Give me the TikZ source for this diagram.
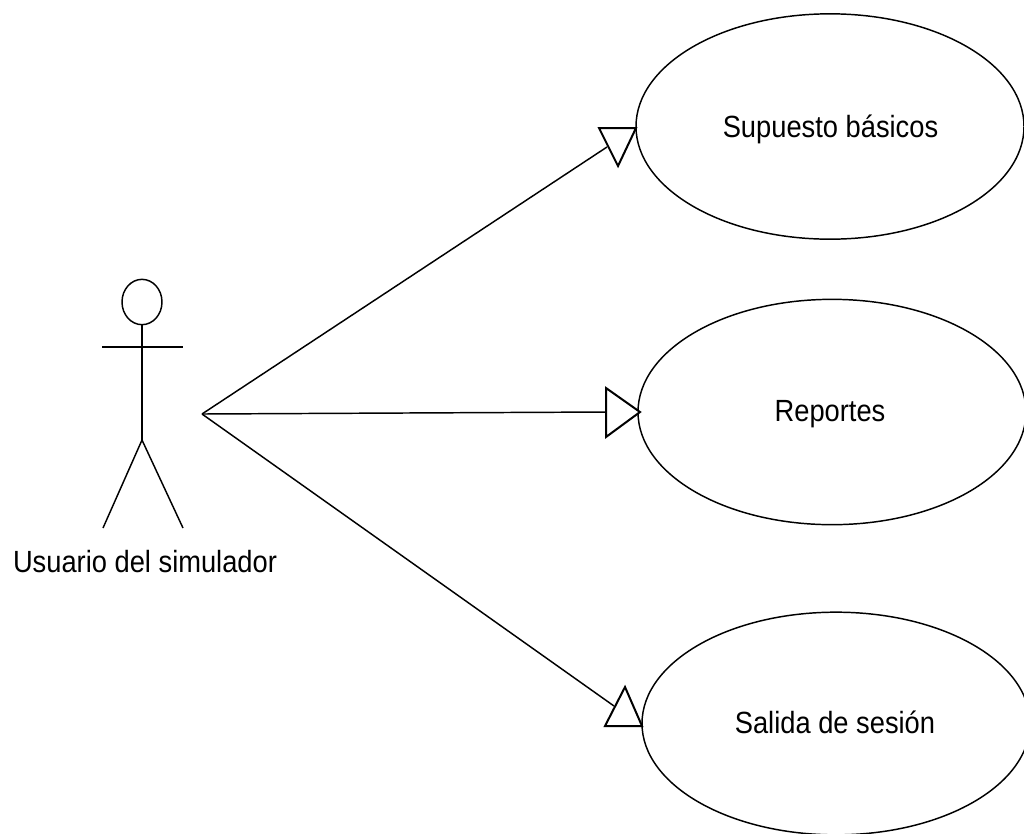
\documentclass[tikz,border=0pt]{standalone}
\usepackage{fontspec}
\setmainfont[FakeStretch=0.89]{Liberation Sans}
\usetikzlibrary{shapes.geometric}
\tikzset{
 ln/.style={draw=black,line width=1.1pt},
 uc/.style={ellipse,ln,inner sep=0pt},
 lab/.style={font=\fontsize{23}{26}\selectfont,inner sep=0pt,anchor=base},
 tip/.style={ln,line width=1.5pt,fill=white,line join=miter}
}
\begin{document}
\begin{tikzpicture}[x=0.75pt,y=-0.75pt]
\useasboundingbox (0,0) rectangle (1024,833);
\node[uc,minimum width=291pt,minimum height=169pt] (a) at (830,126.5) {};
\node[uc,minimum width=291pt,minimum height=169pt] (b) at (832,412) {};
\node[uc,minimum width=291pt,minimum height=167pt] (c) at (836,723.5) {};
\node[lab] at (830.5,137) {Supuesto básicos};
\node[lab] at (830,421) {Reportes};
\node[lab] at (835,733) {Salida de sesión};
\node[lab] (u) at (145,572) {Usuario del simulador};
\coordinate (hub) at (202,414);
\coordinate (ae) at (607,147);
\coordinate (be) at (606,412);
\coordinate (ce) at (614,706);
\draw[ln] (hub) -- (ae);
\draw[ln] (hub) -- (be);
\draw[ln] (hub) -- (ce);
\draw[tip] (599,128) -- (636,128) -- (618,166) -- cycle;
\draw[tip] (606,388) -- (640,412) -- (606,437) -- cycle;
\draw[tip] (625,687) -- (605,726) -- (642,726) -- cycle;
\node[ellipse,ln,minimum width=30pt,minimum height=34pt,inner sep=0pt] (head) at (142,302) {};
\coordinate (hip) at (142,440);
\coordinate (la) at (102,347);
\coordinate (ra) at (183,347);
\coordinate (ll) at (103,528);
\coordinate (rl) at (183,528);
\draw[ln] (head.south) -- (hip);
\draw[ln] (la) -- (ra);
\draw[ln] (ll) -- (hip) -- (rl);
\end{tikzpicture}
\end{document}
